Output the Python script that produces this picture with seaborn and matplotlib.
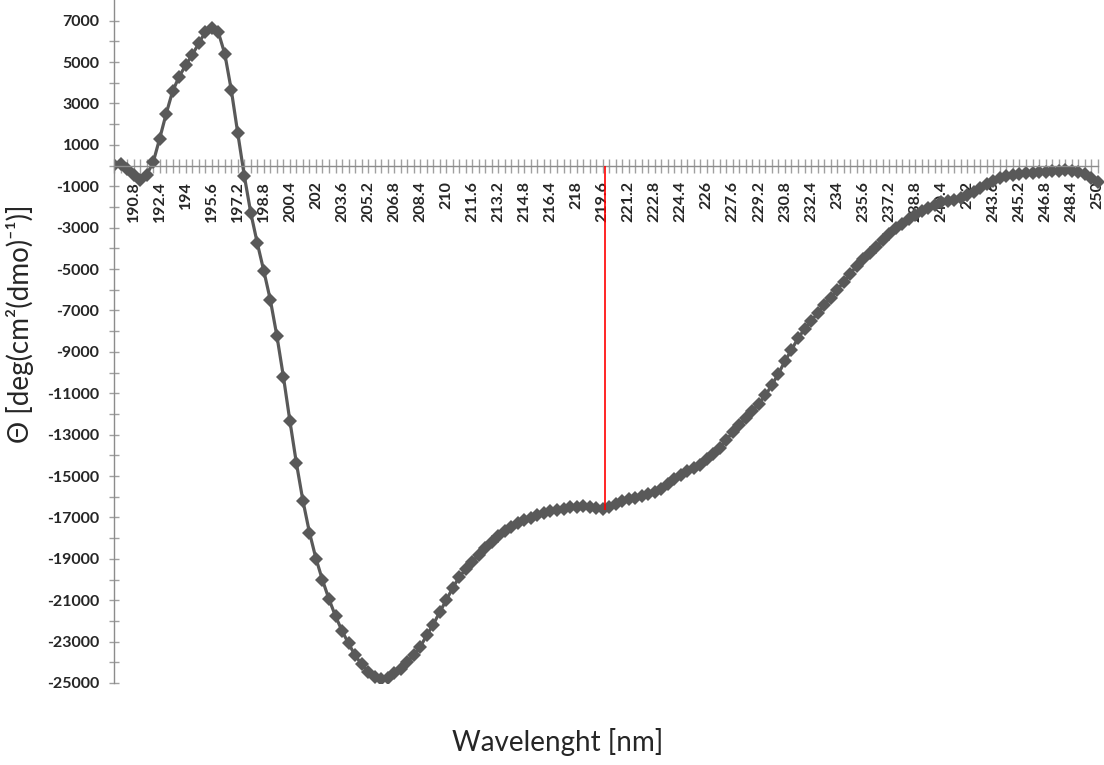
import numpy as np
import matplotlib
matplotlib.use("Agg")
import matplotlib.pyplot as plt
import seaborn as sns

# CD spectrum, one reading every 0.4 nm from 189.6 nm to 250 nm
theta = [50, 100, -150, -450, -700, -450, 150, 1300, 2500, 3600,
         4300, 4850, 5350, 5900, 6450, 6650, 6450, 5400, 3650, 1550,
         -500, -2300, -3760, -5100, -6500, -8230, -10200, -12350, -14390, -16200,
         -17730, -18990, -20030, -20950, -21770, -22480, -23090, -23660, -24090, -24470,
         -24710, -24820, -24760, -24540, -24300, -23980, -23660, -23260, -22690, -22180,
         -21570, -21000, -20400, -19880, -19500, -19150, -18800, -18480, -18200, -17900,
         -17650, -17450, -17250, -17120, -17030, -16900, -16800, -16700, -16650, -16600,
         -16520, -16480, -16470, -16500, -16540, -16600, -16500, -16350, -16230, -16130,
         -16050, -15950, -15870, -15780, -15650, -15400, -15150, -14950, -14750, -14600,
         -14450, -14200, -13950, -13650, -13250, -12880, -12520, -12200, -11850, -11500,
         -11100, -10600, -10050, -9450, -8900, -8350, -7900, -7500, -7140, -6750,
         -6380, -6020, -5620, -5230, -4850, -4530, -4230, -3920, -3620, -3330,
         -3030, -2800, -2570, -2370, -2200, -2050, -1900, -1780, -1720, -1650,
         -1560, -1430, -1270, -1100, -900, -730, -600, -500, -440, -400,
         -370, -340, -310, -290, -260, -240, -230, -250, -320, -420,
         -580, -800]
wl_start, wl_end = 189.6, 250.0
wavelength = np.linspace(wl_start, wl_end, len(theta))

xtick_labels = ['190.8', '192.4', '194', '195.6', '197.2', '198.8', '200.4', '202',
                '203.6', '205.2', '206.8', '208.4', '210', '211.6', '213.2', '214.8',
                '216.4', '218', '219.6', '221.2', '222.8', '224.4', '226', '227.6',
                '229.2', '230.8', '232.4', '234', '235.6', '237.2', '238.8', '240.4',
                '242', '243.6', '245.2', '246.8', '248.4', '250']
ytick_values = [-25000, -23000, -21000, -19000, -17000, -15000, -13000, -11000,
                -9000, -7000, -5000, -3000, -1000, 1000, 3000, 5000, 7000]

# red marker line
marker_wl = 219.75
marker_theta = -16620

sns.set_style("white")
plt.rcParams['font.family'] = ['Lato', 'DejaVu Sans']

fig = plt.figure(figsize=(11.04, 7.65), dpi=100)
ax = fig.add_axes([0.1033, 0.1072, 0.8967, 0.8928])

sns.lineplot(x=wavelength, y=theta, ax=ax, color='#595959', linewidth=2.3,
             marker='D', markersize=7, markeredgewidth=0, errorbar=None)

ax.vlines(marker_wl, marker_theta, 0, color='#ff0000', linewidth=1.2, zorder=5)

ax.set_xlim(wl_start, 250.39)
ax.set_ylim(-25000, 8000)

for s in ['top', 'right']:
    ax.spines[s].set_visible(False)
ax.spines['bottom'].set_position(('data', 0))
ax.spines['bottom'].set_bounds(wl_start, wl_end)
ax.spines['left'].set_bounds(-25000, 8000)
for s in ['bottom', 'left']:
    ax.spines[s].set_color('#8c8c8c')
    ax.spines[s].set_linewidth(1.0)

ax.set_xticks([float(t) for t in xtick_labels])
ax.set_xticklabels(xtick_labels, rotation=90, fontsize=11.5, fontweight='bold')
ax.set_xticks(wavelength, minor=True)
ax.set_yticks(ytick_values)
ax.set_yticklabels([str(v) for v in ytick_values], fontsize=11.5, fontweight='bold')
ax.set_yticks(np.array(ytick_values[:-1]) + 1000, minor=True)

ax.tick_params(axis='x', which='both', bottom=True, direction='inout', length=10,
               width=1, color='#a0a0a0', pad=6)
ax.tick_params(axis='y', which='both', left=True, direction='inout', length=7,
               width=1, color='#a0a0a0', pad=7)
ax.set_xlabel('')
ax.set_ylabel('')

fig.text(558 / 1104, 1 - 742 / 765, 'Wavelenght [nm]', fontsize=20,
         ha='center', va='center')
fig.text(20 / 1104, 1 - 324 / 765, 'Θ [deg(cm²(dmo)⁻¹)]', fontsize=20,
         rotation=90, ha='center', va='center')

fig.savefig('out.png', dpi=100)
